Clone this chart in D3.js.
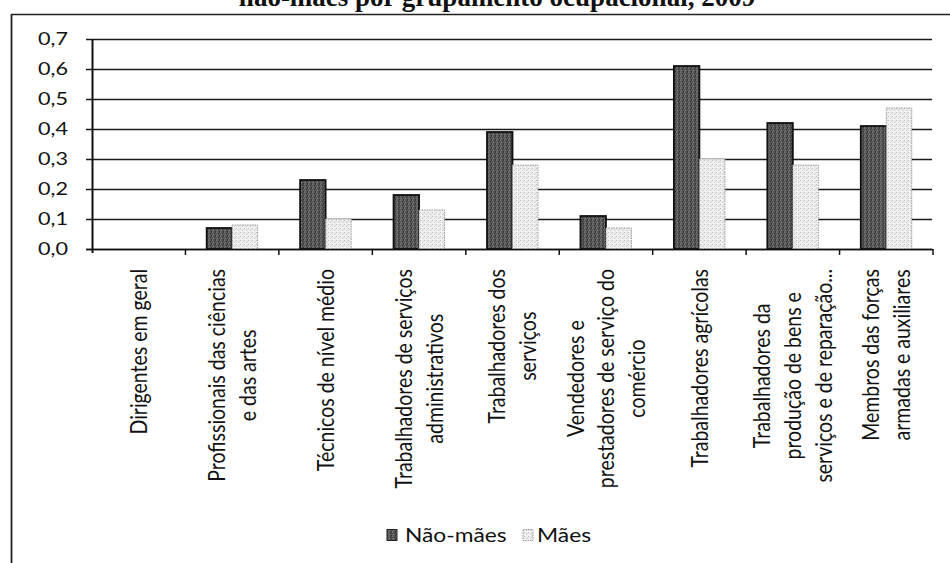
<!DOCTYPE html>
<html>
<head>
<meta charset="utf-8">
<script src="https://cdn.jsdelivr.net/npm/d3@7/dist/d3.min.js"></script>
<style>
  html, body { margin: 0; padding: 0; background: #fff; }
  svg { display: block; }
  text { font-family: Lato, "Open Sans", sans-serif; fill: #111; }
</style>
</head>
<body>
<svg id="chart" width="950" height="563"></svg>
<script>
// Occupational groups (each entry holds the wrapped lines of its axis label)
const categories = [
  ["Dirigentes em geral"],
  ["Profissionais das ciências", "e das artes"],
  ["Técnicos de nível médio"],
  ["Trabalhadores de serviços", "administrativos"],
  ["Trabalhadores dos", "serviços"],
  ["Vendedores e", "prestadores de serviço do", "comércio"],
  ["Trabalhadores agrícolas"],
  ["Trabalhadores da", "produção de bens e", "serviços e de reparação..."],
  ["Membros das forças", "armadas e auxiliares"]
];
const seriesNames = ["Não-mães", "Mães"];
const naoMaes = [0, 0.07, 0.23, 0.18, 0.39, 0.11, 0.61, 0.42, 0.41];
const maes    = [0, 0.08, 0.10, 0.13, 0.28, 0.07, 0.30, 0.28, 0.47];
const yTicks  = [0, 0.1, 0.2, 0.3, 0.4, 0.5, 0.6, 0.7];
const title   = "não-mães por grupamento ocupacional, 2009";

const svg = d3.select("#chart");
const SX = 1.2; // horizontal stretch applied to the chart's text

// Textures for the two series
const defs = svg.append("defs");
const pDark = defs.append("pattern").attr("id", "texDark")
  .attr("width", 4).attr("height", 4).attr("patternUnits", "userSpaceOnUse");
pDark.append("rect").attr("width", 4).attr("height", 4).attr("fill", "#555");
[[0,0,"#7a7a7a"],[2,1,"#333"],[1,2,"#888"],[3,3,"#2e2e2e"],[3,0,"#444"],[0,3,"#6a6a6a"]]
  .forEach(([x, y, c]) => pDark.append("rect").attr("x", x).attr("y", y)
    .attr("width", 1).attr("height", 1).attr("fill", c));
const pLight = defs.append("pattern").attr("id", "texLight")
  .attr("width", 4).attr("height", 4).attr("patternUnits", "userSpaceOnUse");
pLight.append("rect").attr("width", 4).attr("height", 4).attr("fill", "#ededed");
[[0,0,"#bdbdbd"],[2,2,"#c8c8c8"],[3,1,"#d6d6d6"],[1,3,"#fff"]]
  .forEach(([x, y, c]) => pLight.append("rect").attr("x", x).attr("y", y)
    .attr("width", 1).attr("height", 1).attr("fill", c));

// Title (partly above the top edge)
svg.append("text")
  .attr("transform", `translate(497,6)`)
  .attr("text-anchor", "middle")
  .style("font-family", "'Liberation Serif', 'Times New Roman', serif")
  .style("font-weight", "bold")
  .style("font-size", "27px")
  .text(title);

// Outer frame (top and left edges)
svg.append("line").attr("x1", 11).attr("x2", 950).attr("y1", 14.5).attr("y2", 14.5)
  .attr("stroke", "#222").attr("stroke-width", 1.5);
svg.append("line").attr("x1", 11.5).attr("x2", 11.5).attr("y1", 14).attr("y2", 563)
  .attr("stroke", "#222").attr("stroke-width", 1.8);

// Scales
const x0 = d3.scaleBand().domain(d3.range(categories.length)).range([92, 933]).padding(0);
const groupW = 51;
const x1 = d3.scaleBand().domain(seriesNames)
  .range([(x0.bandwidth() - groupW) / 2, (x0.bandwidth() + groupW) / 2]).padding(0);
const y = d3.scaleLinear().domain([0, 0.7]).range([249, 39]);
const fmt = d3.formatLocale({ decimal: ",", thousands: ".", grouping: [3], currency: ["", ""] }).format(".1f");

// Gridlines
svg.append("g").selectAll("line").data(yTicks).join("line")
  .attr("x1", 86).attr("x2", 932)
  .attr("y1", d => Math.round(y(d)) + 0.5).attr("y2", d => Math.round(y(d)) + 0.5)
  .attr("stroke", "#1a1a1a").attr("stroke-width", 1.4);

// Y tick labels
svg.append("g").selectAll("text").data(yTicks).join("text")
  .attr("transform", d => `translate(68,${y(d)}) scale(${SX},1)`)
  .attr("text-anchor", "end").attr("dy", "0.35em")
  .style("font-size", "18px")
  .text(d => fmt(d));

// Bars
const series = [naoMaes, maes];
const barG = svg.append("g");
categories.forEach((c, i) => {
  seriesNames.forEach((s, k) => {
    const v = series[k][i];
    if (v <= 0) return;
    barG.append("rect")
      .attr("x", x0(i) + x1(s))
      .attr("y", y(v))
      .attr("width", x1.bandwidth())
      .attr("height", y(0) - y(v))
      .attr("fill", k === 0 ? "url(#texDark)" : "url(#texLight)")
      .attr("stroke", k === 0 ? "#111" : "#9a9a9a")
      .attr("stroke-width", k === 0 ? 1.8 : 1)
      .attr("stroke-dasharray", k === 0 ? null : "1.5,1");
  });
});

// Axes lines and category ticks
svg.append("line").attr("x1", 92.5).attr("x2", 92.5).attr("y1", 39).attr("y2", 253)
  .attr("stroke", "#111").attr("stroke-width", 2);
svg.append("line").attr("x1", 86).attr("x2", 933).attr("y1", 249.5).attr("y2", 249.5)
  .attr("stroke", "#111").attr("stroke-width", 1.6);
const bounds = d3.range(categories.length + 1).map(i => i < categories.length ? x0(i) : x0.range()[1]);
svg.append("g").selectAll("line").data(bounds.slice(1)).join("line")
  .attr("x1", d => d).attr("x2", d => d).attr("y1", 249).attr("y2", 255)
  .attr("stroke", "#111").attr("stroke-width", 1.5);

// Rotated category labels: block aligned to the axis, lines centred in the block
const labelTop = 269, lineH = 25.5;
categories.forEach((lines, i) => {
  const cx = x0(i) + x0.bandwidth() / 2;
  const g = svg.append("g")
    .attr("transform", `translate(${cx},${labelTop}) scale(${SX},1) rotate(-90)`);
  const ts = lines.map((t, j) => g.append("text")
    .attr("y", (j - (lines.length - 1) / 2) * lineH)
    .attr("dy", "0.35em")
    .attr("text-anchor", "middle")
    .style("font-size", "19.5px")
    .text(t));
  const maxLen = d3.max(ts, t => t.node().getComputedTextLength());
  ts.forEach(t => t.attr("x", -maxLen / 2));
});

// Legend
const legend = svg.append("g");
const legendItems = [
  { name: seriesNames[0], sx: 387, tx: 405, fill: "url(#texDark)", stroke: "#222" },
  { name: seriesNames[1], sx: 523, tx: 537, fill: "url(#texLight)", stroke: "#999" }
];
legendItems.forEach(it => {
  legend.append("rect").attr("x", it.sx).attr("y", 529.5).attr("width", 10).attr("height", 11)
    .attr("fill", it.fill).attr("stroke", it.stroke).attr("stroke-width", 1)
    .attr("stroke-dasharray", it.name === "Mães" ? "1.5,1" : null);
  legend.append("text")
    .attr("transform", `translate(${it.tx},541.5) scale(${SX},1)`)
    .style("font-size", "19px")
    .text(it.name);
});
</script>
</body>
</html>
